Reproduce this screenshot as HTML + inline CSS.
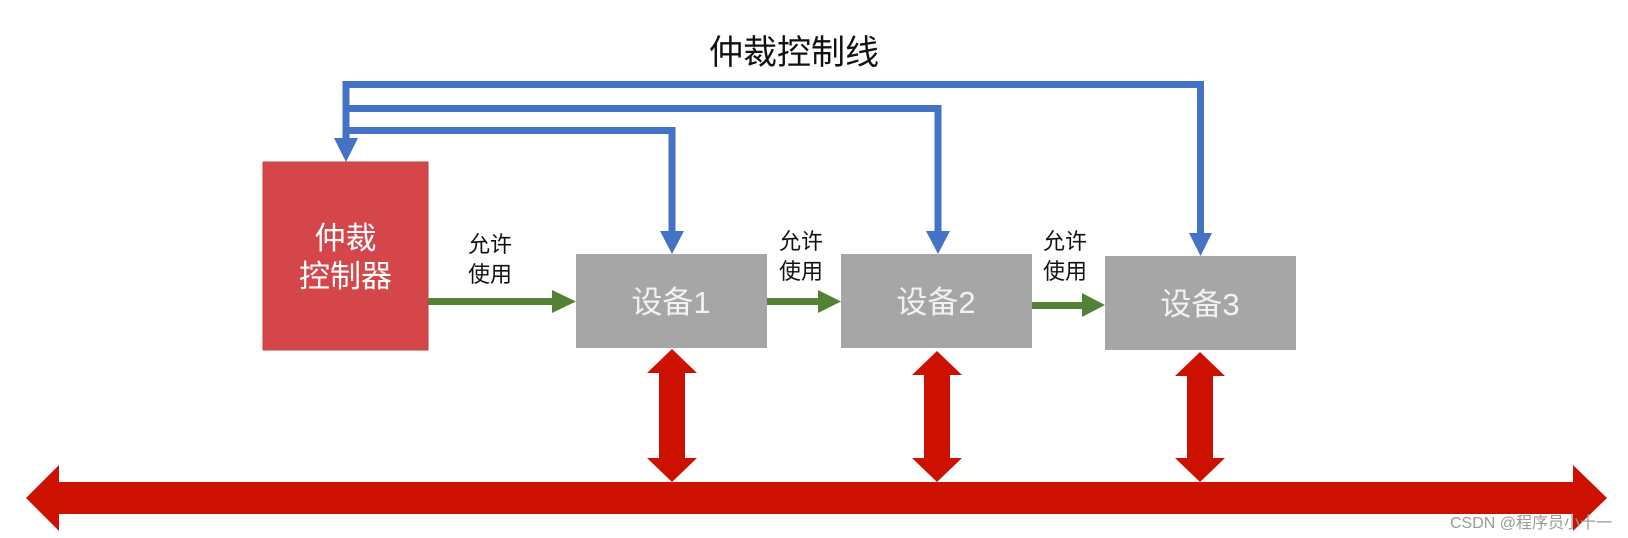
<!DOCTYPE html>
<html><head><meta charset="utf-8"><style>
html,body{margin:0;padding:0;background:#fff;}
svg{display:block;}
text{font-family:"Liberation Sans","Noto Sans CJK SC",sans-serif;}
</style></head><body>
<svg width="1628" height="538" viewBox="0 0 1628 538" xmlns="http://www.w3.org/2000/svg">
<text x="794" y="64" font-size="34" text-anchor="middle" fill="#111">仲裁控制线</text>
<!-- blue control lines -->
<g fill="none" stroke="#4472C4" stroke-width="7">
<polyline points="346,142 346,84.5 1200.5,84.5 1200.5,236"/>
<polyline points="346,108.5 938,108.5 938,234"/>
<polyline points="346,130.5 672,130.5 672,234"/>
</g>
<g fill="#4472C4">
<polygon points="334,138 358,138 346,162"/>
<polygon points="660,231 684,231 672,254"/>
<polygon points="926,231 950,231 938,254"/>
<polygon points="1189,233 1212,233 1200.5,256"/>
</g>
<!-- controller -->
<rect x="263" y="162" width="165" height="188" fill="#D5464A" stroke="#c04040" stroke-width="1"/>
<text x="345.5" y="249" font-size="31" text-anchor="middle" fill="#fff">仲裁</text>
<text x="345.5" y="287" font-size="31" text-anchor="middle" fill="#fff">控制器</text>
<!-- devices -->
<rect x="576" y="254" width="191" height="94" fill="#A6A6A6"/>
<rect x="841" y="254" width="191" height="94" fill="#A6A6A6"/>
<rect x="1105" y="256" width="191" height="94" fill="#A6A6A6"/>
<text x="671" y="313" font-size="31" text-anchor="middle" fill="#F2F2F2">设备1</text>
<text x="936" y="313" font-size="31" text-anchor="middle" fill="#F2F2F2">设备2</text>
<text x="1200" y="315" font-size="31" text-anchor="middle" fill="#F2F2F2">设备3</text>
<!-- green arrows -->
<g fill="#548235">
<rect x="428" y="298" width="126" height="7"/>
<polygon points="552,290 576,301.5 552,313"/>
<rect x="767" y="298" width="53" height="7"/>
<polygon points="818,290 841,301.5 818,313"/>
<rect x="1032" y="302" width="52" height="7"/>
<polygon points="1082,293 1105,305 1082,317"/>
</g>
<g font-size="22" fill="#111">
<text x="468" y="252">允许</text><text x="468" y="282">使用</text>
<text x="779" y="249">允许</text><text x="779" y="279">使用</text>
<text x="1043" y="249">允许</text><text x="1043" y="279">使用</text>
</g>
<!-- red bus -->
<g fill="#CC1100">
<polygon points="26,498 59,465 59,482 1573,482 1573,465 1607,498 1573,531 1573,514 59,514 59,531"/>
<polygon points="672,349 697,373 685,373 685,458 697,458 672,482 647,458 659,458 659,373 647,373"/>
<polygon points="937,351 962,375 950,375 950,458 962,458 937,482 912,458 924,458 924,375 912,375"/>
<polygon points="1200,352 1225,376 1213,376 1213,458 1225,458 1200,482 1175,458 1187,458 1187,376 1175,376"/>
</g>
<text x="1612" y="528" font-size="16" text-anchor="end" fill="#9a9a9a">CSDN @程序员小十一</text>
</svg>
</body></html>
